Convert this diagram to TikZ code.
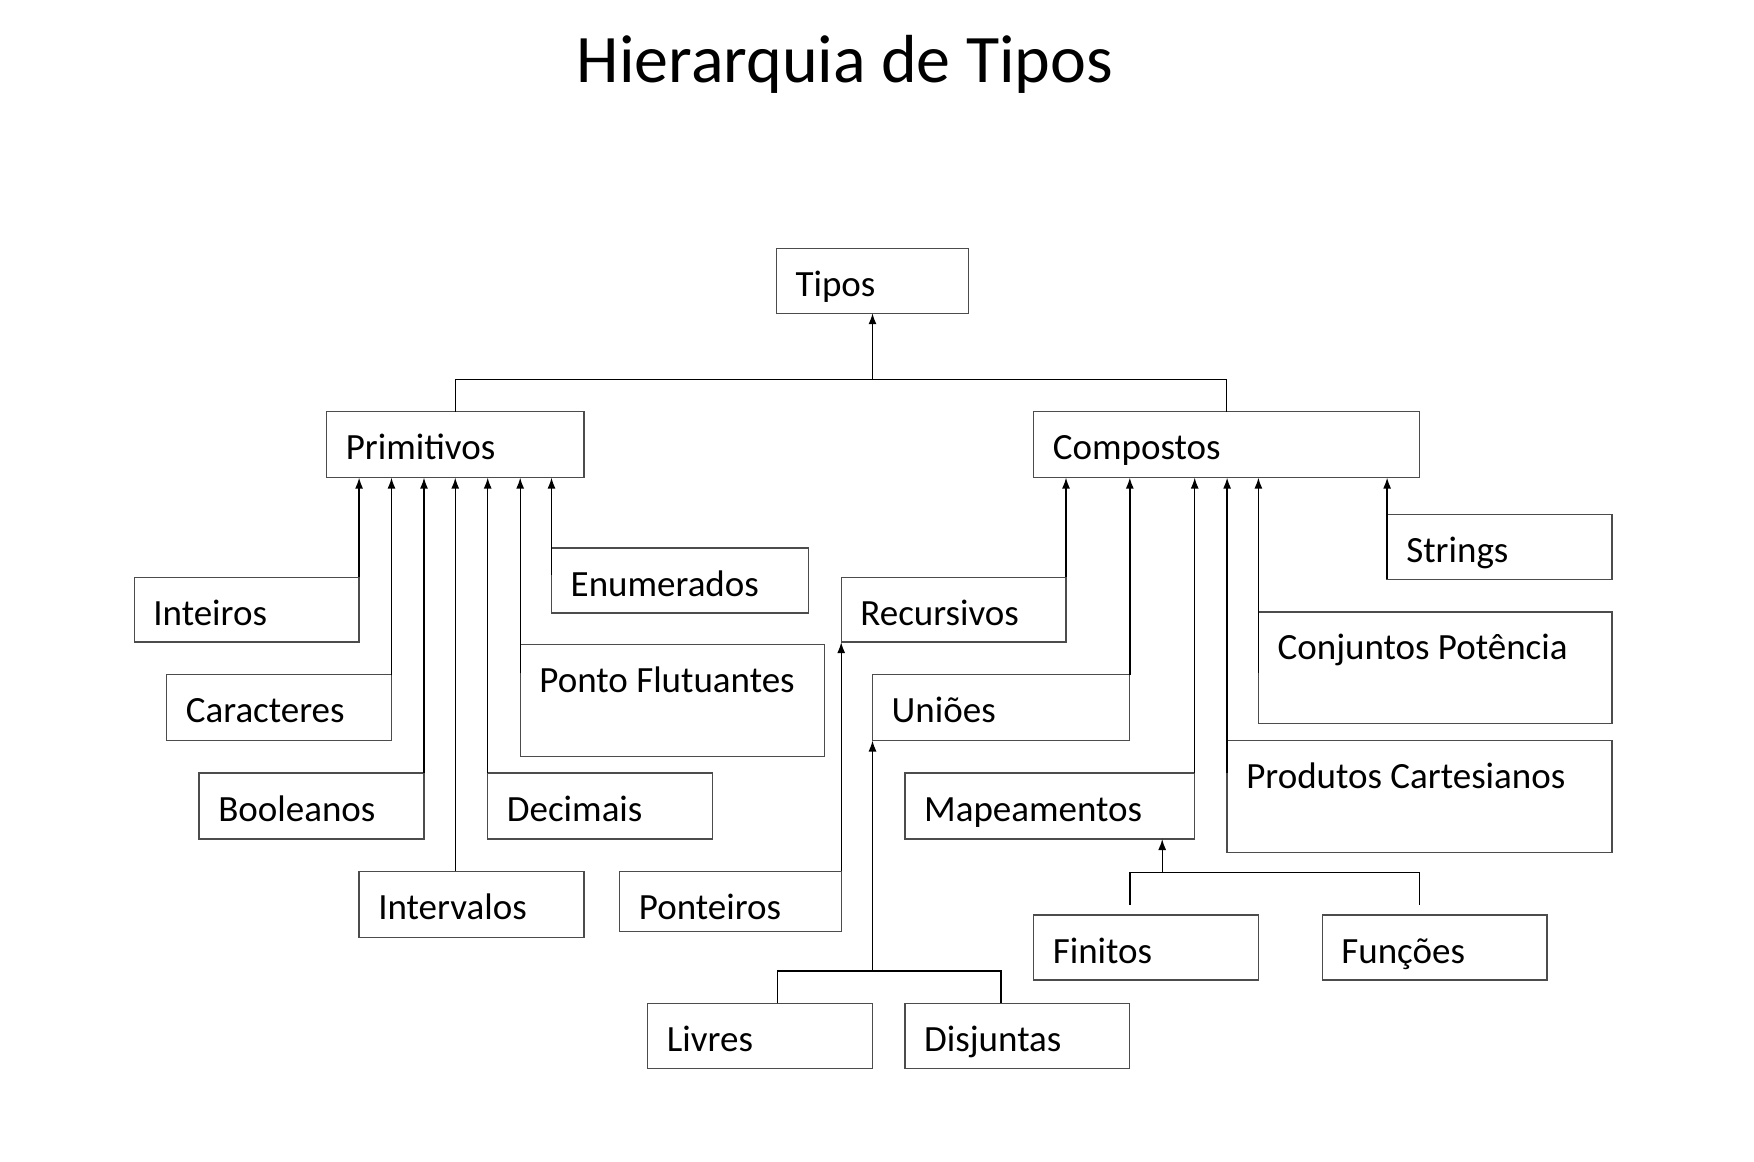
\documentclass[tikz,border=0pt]{standalone}
\usepackage{fontspec}
\setmainfont{Carlito}
\usetikzlibrary{arrows.meta,calc}
\begin{document}
\begin{tikzpicture}[x=1pt,y=-1pt,
  bx/.style={draw=black!70,line width=1.3pt,inner sep=0pt,outer sep=0pt,anchor=north west},
  lbl/.style={anchor=base west,inner sep=0pt,font=\fontsize{37}{44}\selectfont},
  conn/.style={draw=black,line width=1.4pt},
  arr/.style={conn,-{Latex[length=11pt,width=8pt]}}]
\fill[white] (0,0) rectangle (1754,1162);
\useasboundingbox (0,0) rectangle (1754,1162);
\node[anchor=base,inner sep=0pt,font=\fontsize{68}{80}\selectfont] (title) at (845,82) {Hierarquia de Tipos};
% boxes
\newcommand{\mkbox}[6]{%
  \node[bx,minimum width=#4pt,minimum height=#5pt] (#1) at (#2,#3) {};
  \node[lbl] (#1-t) at ([shift={(19,48)}]#1.north west) {#6};}
\mkbox{tipos}{776.3}{248.3}{192.4}{64.9}{Tipos}
\mkbox{prim}{326.6}{411.6}{257.3}{66}{Primitivos}
\mkbox{comp}{1033.6}{411.6}{385.9}{66}{Compostos}
\mkbox{inteiros}{134.2}{577.2}{224.9}{64.9}{Inteiros}
\mkbox{caract}{166.7}{674.5}{224.8}{66}{Caracteres}
\mkbox{bool}{199.1}{773.0}{224.9}{66}{Booleanos}
\mkbox{interv}{359.1}{871.4}{224.8}{66}{Intervalos}
\mkbox{decim}{487.7}{773.0}{224.9}{66}{Decimais}
\mkbox{ponto}{520.2}{644.3}{304.2}{111.9}{Ponto Flutuantes}
\mkbox{enum}{551.5}{548.1}{257.3}{64.9}{Enumerados}
\mkbox{recur}{841.2}{577.2}{224.8}{64.9}{Recursivos}
\mkbox{unioes}{872.5}{674.5}{257.3}{66}{Uniões}
\mkbox{mapea}{905.0}{773.0}{289.7}{66}{Mapeamentos}
\mkbox{prod}{1227.1}{740.5}{384.8}{111.9}{Produtos Cartesianos}
\mkbox{conj}{1258.4}{611.9}{353.5}{111.8}{Conjuntos Potência}
\mkbox{strings}{1387.1}{514.6}{224.8}{64.8}{Strings}
\mkbox{ponteiros}{619.7}{871.4}{221.5}{60.4}{Ponteiros}
\mkbox{livres}{647.7}{1003.4}{224.8}{64.9}{Livres}
\mkbox{disj}{905.0}{1003.4}{224.8}{64.9}{Disjuntas}
\mkbox{finitos}{1033.6}{915.0}{224.8}{64.9}{Finitos}
\mkbox{funcoes}{1322.2}{915.0}{224.8}{64.9}{Funções}
% top bus
\coordinate (tbus) at (872.5,379.2);
\draw[conn] (prim.north) |- (tbus) -| (comp.north);
\draw[arr] (tbus) -- (tipos.south);
% primitivos
\draw[arr] (inteiros.north east) -- (inteiros.north east |- prim.south);
\draw[arr] (caract.north east) -- (caract.north east |- prim.south);
\draw[arr] (bool.north east) -- (bool.north east |- prim.south);
\draw[arr] (prim.south |- interv.north) -- (prim.south);
\draw[arr] (decim.north west) -- (decim.north west |- prim.south);
\coordinate (pontoc) at ([shift={(0,29)}]ponto.north west);
\draw[arr] (pontoc) -- (pontoc |- prim.south);
\coordinate (enumc) at ([shift={(0,27)}]enum.north west);
\draw[arr] (enumc) -- (enumc |- prim.south);
% compostos
\draw[arr] (recur.north east) -- (recur.north east |- comp.south);
\draw[arr] (unioes.north east) -- (unioes.north east |- comp.south);
\draw[arr] (mapea.north east) -- (mapea.north east |- comp.south);
\coordinate (prodc) at ([shift={(0,32)}]prod.north west);
\draw[arr] (prodc) -- (prodc |- comp.south);
\coordinate (conjc) at ([shift={(0,61)}]conj.north west);
\draw[arr] (conjc) -- (conjc |- comp.south);
\draw[arr] (strings.south west) -- (strings.south west |- comp.south);
% recursivos
\draw[arr] (ponteiros.north east) -- (recur.south west);
% unioes
\coordinate (ubus) at (872.5,971);
\draw[conn] ([xshift=17.3]livres.north) |- (ubus) -| ([xshift=-16.3]disj.north);
\draw[arr] (ubus) -- (unioes.south west);
% mapeamentos
\coordinate (mbus) at (1162.2,872.5);
\coordinate (fa) at ([shift={(-16.2,-10)}]finitos.north);
\coordinate (fb) at ([shift={(-15.1,-10)}]funcoes.north);
\draw[conn] (fa) |- (mbus) -| (fb);
\draw[arr] (mbus) -- (mbus |- mapea.south);
\end{tikzpicture}
\end{document}
